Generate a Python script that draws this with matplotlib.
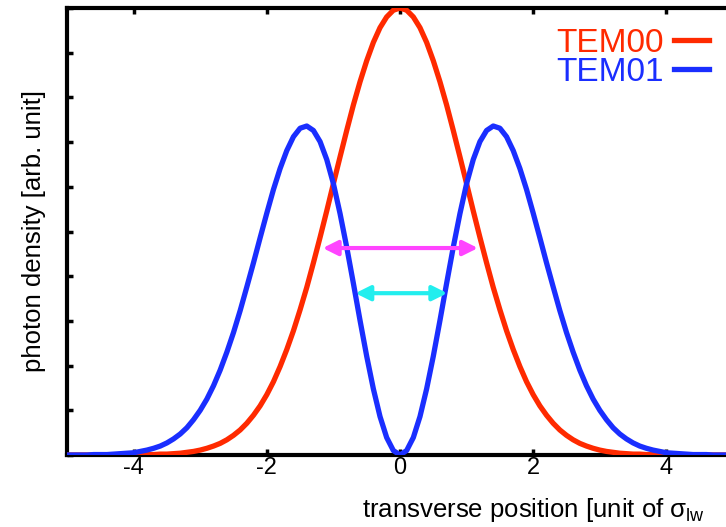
import matplotlib
matplotlib.use('Agg')
import matplotlib.pyplot as plt

# transverse position in units of sigma_lw, grid of 0.1 from -5 to 5
x_pos = [round(-5.0 + 0.1 * i, 1) for i in range(101)]

# photon density (one row = 10 grid points)
tem00 = [0.000, 0.000, 0.000, 0.000, 0.000, 0.000, 0.000, 0.000, 0.000, 0.000,
         0.000, 0.000, 0.001, 0.001, 0.002, 0.002, 0.003, 0.004, 0.006, 0.008,
         0.011, 0.015, 0.020, 0.026, 0.034, 0.044, 0.056, 0.071, 0.089, 0.110,
         0.135, 0.164, 0.198, 0.236, 0.278, 0.325, 0.375, 0.430, 0.487, 0.546,
         0.607, 0.667, 0.726, 0.783, 0.835, 0.882, 0.923, 0.956, 0.980, 0.995,
         1.000, 0.995, 0.980, 0.956, 0.923, 0.882, 0.835, 0.783, 0.726, 0.667,
         0.607, 0.546, 0.487, 0.430, 0.375, 0.325, 0.278, 0.236, 0.198, 0.164,
         0.135, 0.110, 0.089, 0.071, 0.056, 0.044, 0.034, 0.026, 0.020, 0.015,
         0.011, 0.008, 0.006, 0.004, 0.003, 0.002, 0.002, 0.001, 0.001, 0.000,
         0.000, 0.000, 0.000, 0.000, 0.000, 0.000, 0.000, 0.000, 0.000, 0.000,
         0.000]
tem01 = [0.000, 0.000, 0.000, 0.000, 0.001, 0.001, 0.001, 0.002, 0.003, 0.004,
         0.005, 0.008, 0.011, 0.015, 0.020, 0.027, 0.036, 0.047, 0.061, 0.079,
         0.100, 0.125, 0.155, 0.190, 0.230, 0.274, 0.323, 0.376, 0.430, 0.486,
         0.541, 0.594, 0.641, 0.681, 0.712, 0.731, 0.736, 0.726, 0.701, 0.661,
         0.607, 0.540, 0.465, 0.384, 0.301, 0.221, 0.148, 0.086, 0.039, 0.010,
         0.000, 0.010, 0.039, 0.086, 0.148, 0.221, 0.301, 0.384, 0.465, 0.540,
         0.607, 0.661, 0.701, 0.726, 0.736, 0.731, 0.712, 0.681, 0.641, 0.594,
         0.541, 0.486, 0.430, 0.376, 0.323, 0.274, 0.230, 0.190, 0.155, 0.125,
         0.100, 0.079, 0.061, 0.047, 0.036, 0.027, 0.020, 0.015, 0.011, 0.008,
         0.005, 0.004, 0.003, 0.002, 0.001, 0.001, 0.001, 0.000, 0.000, 0.000,
         0.000]

# width arrows: (x start, x end, height)
fwhm_00 = (-1.16, 1.17, 0.463)
fwhm_01 = (-0.67, 0.71, 0.362)

x_ticks = [-4, -2, 0, 2, 4]
y_ticks = [0.1 * i for i in range(11)]

RED = '#ff2a00'
BLUE = '#1a2eff'

plt.rcParams['font.family'] = ['Liberation Sans', 'DejaVu Sans']
plt.rcParams['mathtext.fontset'] = 'custom'
plt.rcParams['mathtext.rm'] = 'Liberation Sans'

fig = plt.figure(figsize=(7.26, 5.27), dpi=100)
ax = fig.add_axes([67 / 726, 72 / 527, 666 / 726, 447 / 527])

ax.plot(x_pos, tem00, color=RED, lw=3.8, label='TEM00', solid_joinstyle='round', zorder=3)
ax.plot(x_pos, tem01, color=BLUE, lw=3.8, label='TEM01', solid_joinstyle='round', zorder=4)

ax.annotate('', xy=(fwhm_00[1], fwhm_00[2]), xytext=(fwhm_00[0], fwhm_00[2]),
            arrowprops=dict(arrowstyle='<|-|>', color='#ff44ff', lw=3,
                            mutation_scale=22, shrinkA=0, shrinkB=0), zorder=5)
ax.annotate('', xy=(fwhm_01[1], fwhm_01[2]), xytext=(fwhm_01[0], fwhm_01[2]),
            arrowprops=dict(arrowstyle='<|-|>', color='#22eeee', lw=3,
                            mutation_scale=22, shrinkA=0, shrinkB=0), zorder=5)

ax.set_xlim(-5, 5)
ax.set_ylim(0, 1)
ax.set_xticks(x_ticks)
ax.set_xticklabels([str(t) for t in x_ticks])
ax.set_yticks(y_ticks)
ax.set_yticklabels([])
ax.tick_params(direction='in', length=4, width=2.5, top=True, right=True,
               labelsize=17, pad=1.5)
for s in ax.spines.values():
    s.set_linewidth(3)

ax.set_ylabel('photon density [arb. unit]', fontsize=18.5)
ax.yaxis.set_label_coords(-0.031, 0.5)
fig.text(362 / 726, 10 / 527, 'transverse position [unit of σ$_{\\mathrm{lw}}$',
         fontsize=18.5, ha='left', va='baseline')

ax.legend(loc='upper right', bbox_to_anchor=(0.964, 0.955), markerfirst=False,
          frameon=False, labelcolor='linecolor', fontsize=24, handlelength=1.05,
          handletextpad=0.3, labelspacing=-0.07, borderpad=0, borderaxespad=0)

fig.savefig('out.png', dpi=100)
